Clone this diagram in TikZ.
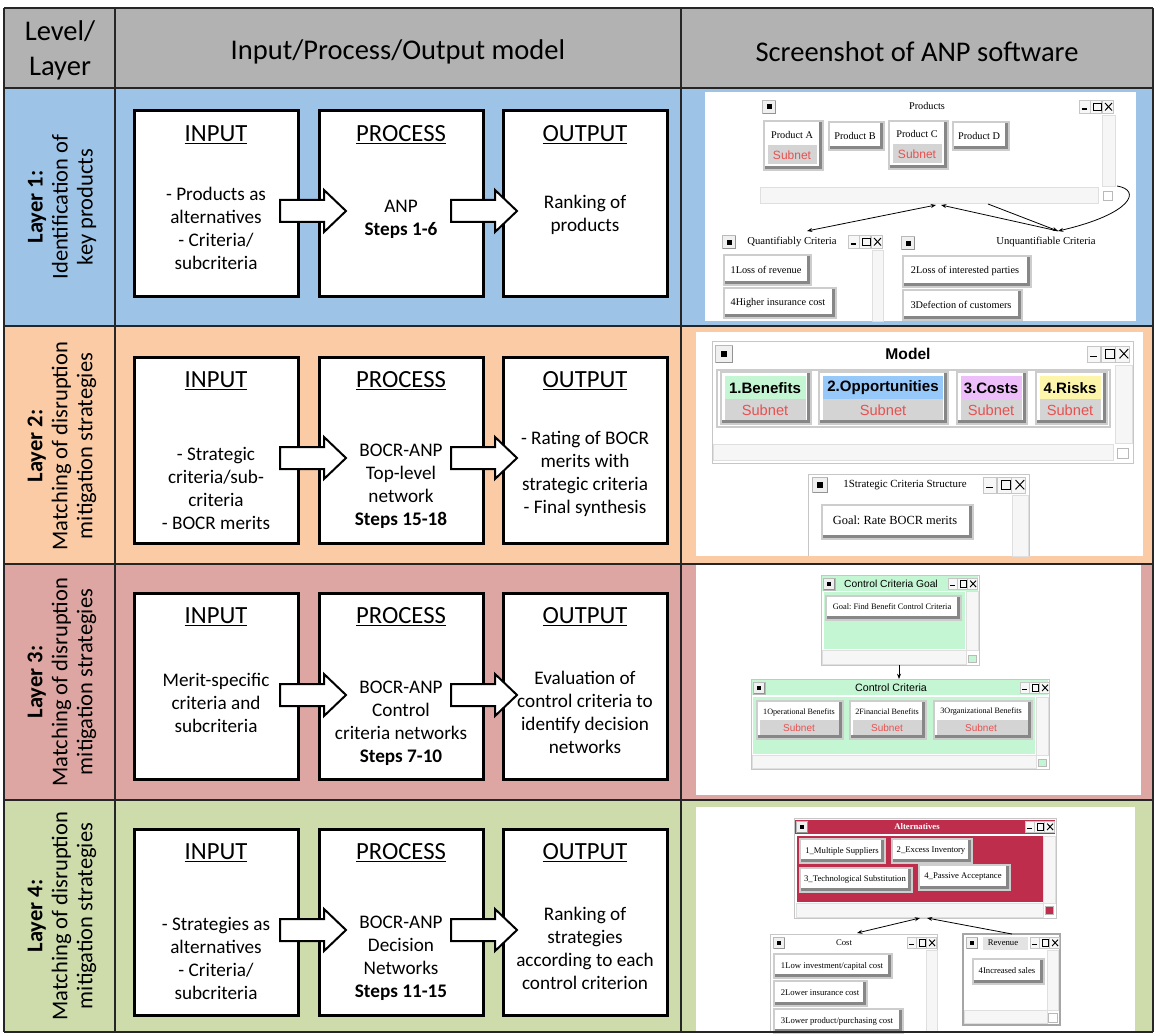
\documentclass[tikz,border=0pt]{standalone}
\usepackage{fontspec}
\setmainfont{Carlito}
\newfontfamily\tms{Liberation Serif}
\newfontfamily\hlv{Liberation Sans}
\usetikzlibrary{arrows.meta}
\frenchspacing

\definecolor{hdrgray}{RGB}{178,178,178}
\definecolor{rowblue}{RGB}{157,195,230}
\definecolor{rowpeach}{RGB}{250,203,165}
\definecolor{rowrose}{RGB}{222,166,162}
\definecolor{rowgreen}{RGB}{206,220,172}
\definecolor{subred}{RGB}{232,80,80}
\definecolor{subgray}{RGB}{212,212,212}
\definecolor{framegray}{RGB}{205,205,205}
\definecolor{shadegray}{RGB}{135,135,135}
\definecolor{mint}{RGB}{196,246,212}
\definecolor{skyb}{RGB}{150,200,250}
\definecolor{lilac}{RGB}{238,190,250}
\definecolor{lemon}{RGB}{252,245,170}
\definecolor{crimson}{RGB}{190,45,75}

% raised ANP node button: light frame, dark bevel, white face
\newcommand\btnbox[4]{%
  \fill[framegray] (#1,#2) rectangle (#3,#4);
  \fill[shadegray] ({#1+2},{#2+2}) rectangle ({#3-2},{#4-2});
  \fill[white] ({#1+2},{#2+2}) rectangle ({#3-5},{#4-5});
}

\tikzset{
  winbtn/.pic={
    \draw[gray!55, fill=gray!12, line width=0.5pt] (-6.5,-6.5) rectangle (6.5,6.5);
    \draw[gray!85, line width=0.8pt] (-6,6.5) -- (6.5,6.5) -- (6.5,-6);
    \fill[black] (-2.5,-2.5) rectangle (2.5,2.5);
  },
  winctl/.pic={
    \foreach \i in {0,1,2}
      \draw[gray!45, fill=gray!6, line width=0.5pt] ({\i*11.5},-6.5) rectangle ({\i*11.5+11},6.5);
    \draw[line width=1.1pt] (2.5,2) -- (8,2);
    \draw[line width=0.7pt] (14.5,-4) rectangle (22,3.5);
    \draw[line width=0.7pt] (26,-4) -- (33,3.5) (26,3.5) -- (33,-4);
  },
  bigarrow/.pic={
    \draw[line width=1.5pt, fill=white, line join=miter]
      (0,-11) -- (44,-11) -- (44,-21) -- (66,0) -- (44,21) -- (44,11) -- (0,11) -- cycle;
  },
}

\begin{document}
\begin{tikzpicture}[x=0.75pt,y=-0.75pt,
  hdr/.style={font=\fontsize{21.4}{26}\selectfont, align=center, inner sep=0},
  rowlab/.style={font=\fontsize{16.9}{18.75}\selectfont, align=center, inner sep=0, rotate=90},
  ipo/.style={draw, line width=2.25pt, fill=white, minimum width=123pt, minimum height=139.5pt, inner sep=0},
  ipohead/.style={font=\fontsize{18.5}{22}\selectfont, inner sep=0},
  body/.style={font=\fontsize{14.4}{17.25}\selectfont, align=center, inner sep=0},
  tline/.style={draw=black!85, line width=1.5pt},
  win/.style={draw=gray!45, line width=0.75pt, fill=white},
  bar/.style={draw=gray!25, fill=gray!7, line width=0.4pt},
  serif/.style={font=\tms\fontsize{#1}{#1}\selectfont, inner sep=0},
  sans/.style={font=\hlv\fontsize{#1}{#1}\selectfont, inner sep=0},
  link/.style={line width=0.6pt, -{Stealth[length=4pt,width=3pt]}},
  twolink/.style={line width=0.6pt, {Stealth[length=4pt,width=3pt]}-{Stealth[length=4pt,width=3pt]}},
]
\useasboundingbox (0,0) rectangle (1155,1034);
\fill[white] (0,0) rectangle (1155,1034);

% ---------- table background ----------
\fill[hdrgray]   (4,8)   rectangle (1153,88);
\fill[rowblue]   (4,88)  rectangle (1153,326);
\fill[rowpeach]  (4,326) rectangle (1153,564);
\fill[rowrose]   (4,564) rectangle (1153,800);
\fill[rowgreen]  (4,800) rectangle (1153,1032);

% ---------- header ----------
\node[hdr] (hLevel) at (60,50.5) {Level/\\Layer};
\node[hdr] (hIPO) at (398,52) {Input/Process/Output model};
\node[hdr] (hShot) at (917,52) {Screenshot of ANP software};

% ---------- layer labels ----------
\node[rowlab] (lab1) at (62,207) {\textbf{Layer 1:}\\Identification of\\key products};
\node[rowlab] (lab2) at (62,446) {\textbf{Layer 2:}\\Matching of disruption\\mitigation strategies};
\node[rowlab] (lab3) at (62,682) {\textbf{Layer 3:}\\Matching of disruption\\mitigation strategies};
\node[rowlab] (lab4) at (62,916) {\textbf{Layer 4:}\\Matching of disruption\\mitigation strategies};

% ---------- input / process / output boxes ----------
\foreach \r/\cy in {1/203.5, 2/450.5, 3/686.5, 4/922.5}{
  \node[ipo] (in\r)  at (216,\cy) {};
  \node[ipo] (pr\r)  at (401,\cy) {};
  \node[ipo] (out\r) at (585,\cy) {};
}
\foreach \r/\ay in {1/211, 2/458, 3/695, 4/930}{
  \pic at (280,\ay) {bigarrow};
  \pic at (451,\ay) {bigarrow};
}
\foreach \r/\hy in {1/135, 2/381, 3/617, 4/853}{
  \node[ipohead] (in\r h)  at (216,\hy) {\underline{INPUT}};
  \node[ipohead] (pr\r h)  at (401,\hy) {\underline{PROCESS}};
  \node[ipohead] (out\r h) at (585,\hy) {\underline{OUTPUT}};
}

\node[body] (in1t)  at (216,228.5) {- Products as\\alternatives\\- Criteria/\\subcriteria};
\node[body] (pr1t)  at (401,219)   {ANP\\\textbf{Steps 1-6}};
\node[body] (out1t) at (585,215)   {Ranking of\\products};

\node[body] (in2t)  at (216,488)   {- Strategic\\criteria/sub-\\criteria\\- BOCR merits};
\node[body] (pr2t)  at (401,486)   {BOCR-ANP\\Top-level\\network\\\textbf{Steps 15-18}};
\node[body] (out2t) at (585,473.5) {- Rating of BOCR\\merits with\\strategic criteria\\- Final synthesis};

\node[body] (in3t)  at (216,702.5) {Merit-specific\\criteria and\\subcriteria};
\node[body] (pr3t)  at (401,723.5) {BOCR-ANP\\Control\\criteria networks\\\textbf{Steps 7-10}};
\node[body] (out3t) at (585,712.5) {Evaluation of\\control criteria to\\identify decision\\networks};

\node[body] (in4t)  at (216,958.5) {- Strategies as\\alternatives\\- Criteria/\\subcriteria};
\node[body] (pr4t)  at (401,958.5) {BOCR-ANP\\Decision\\Networks\\\textbf{Steps 11-15}};
\node[body] (out4t) at (585,948)   {Ranking of\\strategies\\according to each\\control criterion};

% ---------- Layer 1 screen: products and criteria clusters ----------
\fill[white] (705,92) rectangle (1136,321);
\pic at (769,107) {winbtn};
\node[serif=7.7] (prodTitle) at (927,106) {Products};
\pic at (1079,107) {winctl};
\draw[bar] (1102,115) rectangle (1115,186);
\draw[bar] (760,187) rectangle (1098,203);
\draw[gray!55, fill=white, line width=0.5pt] (1103,191) rectangle (1112,200);

\btnbox{763}{120}{824}{171}
\fill[subgray] (768,145) rectangle (817,164);
\node[serif=7.7] (pA) at (792,135) {Product A};
\node[sans=9, text=subred] (pAs) at (792,155) {Subnet};
\btnbox{828}{121}{885}{151}
\node[serif=7.7] (pB) at (855,136) {Product B};
\btnbox{888}{120}{949}{170}
\fill[subgray] (893,144) rectangle (942,163);
\node[serif=7.7] (pC) at (917,134) {Product C};
\node[sans=9, text=subred] (pCs) at (917,154) {Subnet};
\btnbox{952}{121}{1010}{151}
\node[serif=7.7] (pD) at (979,136) {Product D};

\pic at (729,242) {winbtn};
\node[serif=8] (qcTitle) at (792,242) {Quantifiably Criteria};
\pic at (848,242) {winctl};
\draw[bar] (872,250) rectangle (883,321);
\btnbox{723}{254}{812}{286}
\node[serif=7.7] (q1) at (766,270) {1Loss of revenue};
\btnbox{723}{287}{837}{319}
\node[serif=7.7] (q4) at (778,303) {4Higher insurance cost};

\pic at (908,243) {winbtn};
\node[serif=8] (ucTitle) at (1046,242) {Unquantifiable Criteria};
\btnbox{902}{255}{1032}{288}
\node[serif=7.7] (u2) at (965,271) {2Loss of interested parties};
\btnbox{902}{289}{1023}{321}
\node[serif=7.7] (u3) at (961,305) {3Defection of customers};

\coordinate (prodBotL) at (936,205);
\coordinate (prodBotR) at (941,205);
\coordinate (prodBotM) at (988,204);
\coordinate (prodSide) at (1117,186);
\coordinate (qcTop) at (807,231);
\coordinate (ucTop) at (1058,231);
\draw[twolink] (qcTop) -- (prodBotL);
\draw[link] (ucTop) -- (prodBotR);
\draw[link] (prodBotM) -- (ucTop);
\draw[link] (prodSide) .. controls (1142,190) and (1132,214) .. (ucTop);

% ---------- Layer 2 screen: BOCR model ----------
\fill[white] (696,332) rectangle (1143,556);
\draw[win] (712,341) rectangle (1133,463);
\pic[scale=1.3] at (724,354) {winbtn};
\node[font=\hlv\bfseries\fontsize{11.7}{12}\selectfont, inner sep=0] (modelTitle) at (908,354) {Model};
\pic[scale=1.25] at (1087,354) {winctl};
\draw[gray!40, line width=1.5pt] (717,370) rectangle (1110,427);
\draw[bar] (1115,365) rectangle (1132,443);
\draw[bar] (713,444) rectangle (1113,460);
\draw[gray!55, fill=white, line width=0.5pt] (1117,448) rectangle (1128,458);

\btnbox{720}{371}{812}{425}
\fill[mint] (725,376) rectangle (806,399);
\fill[subgray] (725,399) rectangle (806,420);
\node[font=\hlv\bfseries\fontsize{11.3}{12}\selectfont, inner sep=0] (bBen) at (765,388) {1.Benefits};
\node[sans=11, text=subred] (bBenS) at (765,410) {Subnet};

\btnbox{818}{371}{949}{425}
\fill[skyb] (823,376) rectangle (943,399);
\fill[subgray] (823,399) rectangle (943,420);
\node[font=\hlv\bfseries\fontsize{11.3}{12}\selectfont, inner sep=0] (bOpp) at (883,388) {2.Opportunities};
\node[sans=11, text=subred] (bOppS) at (883,410) {Subnet};

\btnbox{956}{371}{1028}{425}
\fill[lilac] (961,376) rectangle (1022,399);
\fill[subgray] (961,399) rectangle (1022,420);
\node[font=\hlv\bfseries\fontsize{11.3}{12}\selectfont, inner sep=0] (bCos) at (991,388) {3.Costs};
\node[sans=11, text=subred] (bCosS) at (991,410) {Subnet};

\btnbox{1035}{371}{1108}{425}
\fill[lemon] (1040,376) rectangle (1101,399);
\fill[subgray] (1040,399) rectangle (1101,420);
\node[font=\hlv\bfseries\fontsize{11.3}{12}\selectfont, inner sep=0] (bRis) at (1070,388) {4.Risks};
\node[sans=11, text=subred] (bRisS) at (1070,410) {Subnet};

\draw[gray!45, line width=0.75pt] (808,556) -- (808,474) -- (1029,474) -- (1029,556);
\pic[scale=1.2] at (820,485) {winbtn};
\node[serif=8.2] (scsTitle) at (905,485) {1Strategic Criteria Structure};
\pic[scale=1.25] at (983,485) {winctl};
\draw[bar] (1012,495) rectangle (1028,556);
\btnbox{821}{504}{974}{540}
\node[serif=9.3] (goalRate) at (895,520) {Goal: Rate BOCR merits};

% ---------- Layer 3 screen: control criteria ----------
\fill[white] (696,565) rectangle (1141,795);
\draw[win] (821,575) rectangle (979,665);
\fill[mint] (822,576) rectangle (978,591);
\pic[scale=0.9] at (829,584) {winbtn};
\node[sans=7.7] (ccgTitle) at (891,584) {Control Criteria Goal};
\pic[scale=0.85] at (948,584) {winctl};
\fill[mint] (824,592) rectangle (965,649);
\draw[bar] (966,591) rectangle (978,650);
\draw[bar] (822,650) rectangle (966,664);
\draw[gray!55, fill=mint, line width=0.5pt] (968,655) rectangle (976,662);
\btnbox{825}{595}{962}{621}
\node[serif=6.3] (goalFind) at (892,607) {Goal: Find Benefit Control Criteria};

\draw[win] (751,679) rectangle (1049,769);
\fill[mint] (752,680) rectangle (1048,695);
\pic[scale=0.9] at (759,688) {winbtn};
\node[sans=8] (ccTitle) at (891,688) {Control Criteria};
\pic[scale=0.85] at (1020,688) {winctl};
\fill[mint] (753,697) rectangle (1035,754);
\draw[bar] (1036,697) rectangle (1048,755);
\draw[bar] (752,755) rectangle (1036,768);
\draw[gray!55, fill=mint, line width=0.5pt] (1038,759) rectangle (1046,766);

\btnbox{756}{700}{844}{740}
\fill[subgray] (760,720) rectangle (839,735);
\node[serif=6.1] (cc1) at (799,712) {1Operational Benefits};
\node[sans=7.5, text=subred] (cc1s) at (799,728) {Subnet};
\btnbox{849}{700}{927}{740}
\fill[subgray] (853,720) rectangle (922,735);
\node[serif=6.1] (cc2) at (887,712) {2Financial Benefits};
\node[sans=7.5, text=subred] (cc2s) at (887,728) {Subnet};
\btnbox{933}{700}{1033}{740}
\fill[subgray] (937,720) rectangle (1028,735);
\node[serif=6.1] (cc3) at (981,712) {3Organizational Benefits};
\node[sans=7.5, text=subred] (cc3s) at (981,728) {Subnet};

\coordinate (ccgBot) at (899,665);
\coordinate (ccTop) at (899,679);
\draw[link] (ccgBot) -- (ccTop);

% ---------- Layer 4 screen: alternatives, cost and revenue ----------
\fill[white] (696,807) rectangle (1135,1032);
\draw[win] (794,818) rectangle (1056,918);
\fill[crimson] (795,820) rectangle (1055,834);
\pic[scale=0.85] at (802,827) {winbtn};
\node[font=\tms\bfseries\fontsize{6.5}{7}\selectfont, text=white, inner sep=0] (altTitle) at (917,827) {Alternatives};
\pic[scale=0.85] at (1025,827) {winctl};
\fill[crimson] (797,836) rectangle (1043,902);
\draw[bar] (1043,836) rectangle (1055,903);
\draw[bar] (796,903) rectangle (1043,917);
\draw[gray!55, fill=crimson, line width=0.5pt] (1045,906) rectangle (1053,914);

\btnbox{799}{838}{886}{864}
\node[serif=6.5] (a1) at (842,851) {1\_Multiple Suppliers};
\btnbox{891}{838}{973}{864}
\node[serif=6.5] (a2) at (931,851) {2\_Excess Inventory};
\btnbox{799}{867}{913}{893}
\node[serif=6.5] (a3) at (855,879) {3\_Technological Substitution};
\btnbox{918}{864}{1011}{891}
\node[serif=6.5] (a4) at (963,877) {4\_Passive Acceptance};

\draw[gray!45, line width=0.75pt] (770,1032) -- (770,934) -- (937,934) -- (937,1032);
\pic[scale=0.85] at (779,943) {winbtn};
\node[serif=6.5] (costTitle) at (844,943) {Cost};
\pic[scale=0.85] at (907,943) {winctl};
\draw[bar] (926,950) rectangle (937,1032);
\btnbox{773}{953}{893}{979}
\node[serif=6.5] (c1) at (832,966) {1Low investment/capital cost};
\btnbox{773}{980}{868}{1007}
\node[serif=6.5] (c2) at (820,993) {2Lower insurance cost};
\btnbox{773}{1008}{904}{1034}
\node[serif=6.5] (c3) at (837,1021) {3Lower product/purchasing cost};

\draw[draw=gray!70, line width=0.9pt, fill=white] (963,934) rectangle (1060,1025);
\fill[gray!22] (983,937) rectangle (1028,950);
\pic[scale=0.85] at (972,943) {winbtn};
\node[serif=6.5] (revTitle) at (1003,943) {Revenue};
\pic[scale=0.85] at (1030,943) {winctl};
\draw[bar] (1047,950) rectangle (1058,1010);
\draw[bar] (964,1010) rectangle (1047,1023);
\draw[gray!55, fill=white, line width=0.5pt] (1048,1013) rectangle (1057,1022);
\btnbox{972}{958}{1045}{985}
\node[serif=6.5] (r4) at (1007,971) {4Increased sales};

\coordinate (altBotL) at (920,918);
\coordinate (altBotR) at (927,918);
\coordinate (costTop) at (857,933);
\coordinate (revTop) at (1012,934);
\draw[twolink] (costTop) -- (altBotL);
\draw[link] (revTop) -- (altBotR);

% ---------- table rules ----------
\foreach \yy in {8,88,326,564,800,1032}
  \draw[tline] (4,\yy) -- (1153,\yy);
\foreach \xx in {4,115,681,1153}
  \draw[tline] (\xx,8) -- (\xx,1032);
\end{tikzpicture}
\end{document}
